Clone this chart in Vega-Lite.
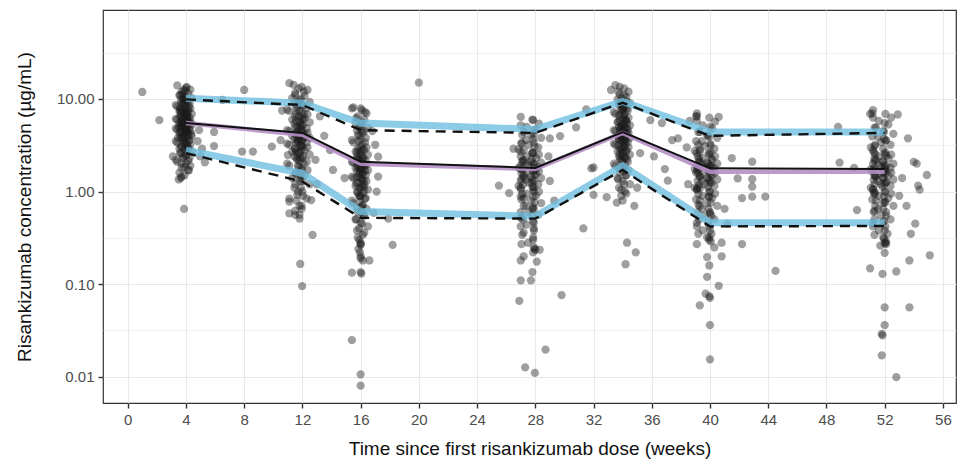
{
"$schema": "https://vega.github.io/schema/vega-lite/v6.json",
"width": 853, "height": 393,
"autosize": {"type": "none"},
"padding": {"left": 103, "top": 10, "right": 3, "bottom": 57},
"background": "white",
"config": {
 "font": "Liberation Sans",
 "view": {"stroke": "#333333", "strokeWidth": 1.2},
 "axis": {"domain": false, "tickColor": "#333333", "tickSize": 5, "tickWidth": 1.4, "labelColor": "#4d4d4d", "labelFontSize": 15, "labelFont": "Liberation Sans", "titleFont": "Liberation Sans", "titleFontSize": 19, "titleFontWeight": "normal", "titleColor": "#111111", "gridColor": "#e8e8e8"}
},
"datasets": {
"pts": [
{"t":3.4,"c":14.0},{"t":4.0,"c":13.2},{"t":4.3,"c":12.6},{"t":3.7,"c":12.0},{"t":4.15,"c":11.5},{"t":3.55,"c":11.0},{"t":3.9,"c":10.6},{"t":4.4,"c":10.2},{"t":3.65,"c":9.8},{"t":4.05,"c":9.5},{"t":3.8,"c":9.2},{"t":4.25,"c":8.9},{"t":3.3,"c":8.6},
{"t":3.4,"c":8.3},{"t":4.0,"c":8.1},{"t":4.3,"c":7.9},{"t":3.7,"c":7.7},{"t":4.15,"c":7.5},{"t":3.55,"c":7.3},{"t":3.9,"c":7.1},{"t":4.4,"c":6.9},{"t":3.65,"c":6.7},{"t":4.05,"c":6.6},{"t":3.8,"c":6.4},{"t":4.25,"c":6.3},{"t":3.3,"c":6.1},
{"t":3.4,"c":6.0},{"t":4.0,"c":5.9},{"t":4.3,"c":5.8},{"t":3.7,"c":5.7},{"t":4.15,"c":5.6},{"t":3.55,"c":5.5},{"t":3.9,"c":5.4},{"t":4.4,"c":5.3},{"t":3.65,"c":5.2},{"t":4.05,"c":5.1},{"t":3.8,"c":5.0},{"t":4.25,"c":4.9},{"t":3.3,"c":4.8},
{"t":3.4,"c":4.7},{"t":4.0,"c":4.6},{"t":4.3,"c":4.5},{"t":3.7,"c":4.4},{"t":4.15,"c":4.3},{"t":3.55,"c":4.2},{"t":3.9,"c":4.1},{"t":4.4,"c":4.0},{"t":3.65,"c":3.9},{"t":4.05,"c":3.8},{"t":3.8,"c":3.7},{"t":4.25,"c":3.6},{"t":3.3,"c":3.5},
{"t":3.4,"c":3.4},{"t":4.0,"c":3.3},{"t":4.3,"c":3.2},{"t":3.7,"c":3.1},{"t":4.15,"c":3.0},{"t":3.55,"c":2.9},{"t":3.9,"c":2.8},{"t":4.4,"c":2.7},{"t":3.65,"c":2.6},{"t":4.05,"c":2.5},{"t":3.8,"c":2.4},{"t":4.25,"c":2.3},{"t":3.3,"c":2.2},
{"t":3.4,"c":2.1},{"t":4.0,"c":2.0},{"t":4.3,"c":1.9},{"t":3.7,"c":1.8},{"t":4.15,"c":1.7},{"t":3.55,"c":1.6},{"t":3.9,"c":1.5},{"t":3.65,"c":1.4},
{"t":3.9,"c":9.0},{"t":3.6,"c":8.0},{"t":4.1,"c":7.0},{"t":3.75,"c":6.2},{"t":4.2,"c":5.6},{"t":3.5,"c":5.0},{"t":3.95,"c":4.6},{"t":4.35,"c":4.2},{"t":3.45,"c":3.8},{"t":3.85,"c":3.4},{"t":4.1,"c":3.0},{"t":3.6,"c":7.6},{"t":3.95,"c":6.8},{"t":3.75,"c":5.3},{"t":4.0,"c":4.4},{"t":3.85,"c":10.0},{"t":3.75,"c":11.2},{"t":3.95,"c":12.3},
{"t":3.6,"c":11.0},{"t":4.0,"c":10.4},{"t":3.8,"c":9.9},{"t":4.15,"c":9.4},{"t":3.7,"c":9.0},{"t":3.9,"c":8.6},{"t":4.2,"c":8.2},{"t":3.85,"c":7.8},{"t":4.05,"c":7.5},{"t":3.65,"c":7.2},{"t":3.95,"c":6.9},{"t":4.1,"c":6.6},
{"t":3.6,"c":6.4},{"t":4.0,"c":6.2},{"t":3.8,"c":6.0},{"t":4.15,"c":5.8},{"t":3.7,"c":5.6},{"t":3.9,"c":5.45},{"t":4.2,"c":5.3},{"t":3.85,"c":5.15},{"t":4.05,"c":5.0},{"t":3.65,"c":4.85},{"t":3.95,"c":4.7},{"t":4.1,"c":4.55},
{"t":3.6,"c":4.4},{"t":4.0,"c":4.25},{"t":3.8,"c":4.1},{"t":4.15,"c":3.95},{"t":3.7,"c":3.8},{"t":3.9,"c":3.65},{"t":4.2,"c":3.5},{"t":3.85,"c":3.35},{"t":4.05,"c":3.2},{"t":3.65,"c":3.05},{"t":3.95,"c":2.9},{"t":4.1,"c":2.75},
{"t":3.6,"c":2.6},{"t":4.0,"c":2.45},{"t":3.8,"c":2.3},{"t":4.15,"c":2.15},{"t":3.7,"c":2.0},{"t":3.9,"c":1.85},{"t":4.2,"c":1.7},{"t":3.85,"c":12.5},{"t":4.05,"c":13.5},
{"t":1.0,"c":11.9},{"t":2.17,"c":5.9},{"t":8.0,"c":12.5},{"t":5.93,"c":4.4},{"t":5.93,"c":3.1},{"t":7.85,"c":2.7},{"t":8.6,"c":2.7},{"t":9.9,"c":3.05},{"t":6.5,"c":9.8},{"t":3.1,"c":2.4},{"t":3.7,"c":1.45},{"t":3.87,"c":0.65},{"t":4.97,"c":2.4},{"t":5.3,"c":2.07},{"t":4.8,"c":3.5},{"t":4.9,"c":4.6},{"t":5.1,"c":2.9},{"t":3.5,"c":1.35},

{"t":11.1,"c":14.8},{"t":11.95,"c":13.5},{"t":12.35,"c":12.5},{"t":11.5,"c":11.6},{"t":12.15,"c":10.8},{"t":11.3,"c":10.2},{"t":11.8,"c":9.7},{"t":12.5,"c":9.3},{"t":11.45,"c":8.9},{"t":12.0,"c":8.6},{"t":11.65,"c":8.3},{"t":12.3,"c":8.0},{"t":10.95,"c":7.7},
{"t":11.1,"c":7.4},{"t":11.95,"c":7.1},{"t":12.35,"c":6.8},{"t":11.5,"c":6.5},{"t":12.15,"c":6.2},{"t":11.3,"c":6.0},{"t":11.8,"c":5.8},{"t":12.5,"c":5.6},{"t":11.45,"c":5.4},{"t":12.0,"c":5.2},{"t":11.65,"c":5.0},{"t":12.3,"c":4.8},{"t":10.95,"c":4.6},
{"t":11.1,"c":4.5},{"t":11.95,"c":4.4},{"t":12.35,"c":4.3},{"t":11.5,"c":4.2},{"t":12.15,"c":4.1},{"t":11.3,"c":4.0},{"t":11.8,"c":3.9},{"t":12.5,"c":3.8},{"t":11.45,"c":3.7},{"t":12.0,"c":3.6},{"t":11.65,"c":3.5},{"t":12.3,"c":3.4},{"t":10.95,"c":3.3},
{"t":11.1,"c":3.2},{"t":11.95,"c":3.1},{"t":12.35,"c":3.0},{"t":11.5,"c":2.9},{"t":12.15,"c":2.8},{"t":11.3,"c":2.7},{"t":11.8,"c":2.6},{"t":12.5,"c":2.5},{"t":11.45,"c":2.4},{"t":12.0,"c":2.3},{"t":11.65,"c":2.2},{"t":12.3,"c":2.1},{"t":10.95,"c":2.0},
{"t":11.1,"c":1.9},{"t":11.95,"c":1.8},{"t":12.35,"c":1.7},{"t":11.5,"c":1.6},{"t":12.15,"c":1.5},{"t":11.3,"c":1.4},{"t":11.8,"c":1.3},{"t":12.5,"c":1.2},{"t":11.45,"c":1.1},{"t":12.0,"c":1.0},{"t":11.65,"c":0.92},{"t":12.3,"c":0.84},{"t":11.1,"c":0.78},{"t":11.95,"c":0.7},{"t":11.5,"c":0.62},{"t":11.8,"c":0.56},
{"t":11.75,"c":8.8},{"t":11.55,"c":7.0},{"t":12.05,"c":6.0},{"t":11.85,"c":5.0},{"t":11.6,"c":4.4},{"t":12.1,"c":3.9},{"t":11.7,"c":3.5},{"t":11.9,"c":3.1},{"t":11.55,"c":2.7},{"t":11.85,"c":2.3},{"t":11.7,"c":1.9},{"t":11.9,"c":1.5},
{"t":11.5,"c":11.0},{"t":11.9,"c":10.0},{"t":11.7,"c":9.2},{"t":12.05,"c":8.5},{"t":11.6,"c":7.9},{"t":11.8,"c":7.4},{"t":12.1,"c":6.9},{"t":11.75,"c":6.5},{"t":11.95,"c":6.1},{"t":11.55,"c":5.8},{"t":11.85,"c":5.5},{"t":12.0,"c":5.2},
{"t":11.5,"c":4.95},{"t":11.9,"c":4.7},{"t":11.7,"c":4.5},{"t":12.05,"c":4.3},{"t":11.6,"c":4.1},{"t":11.8,"c":3.95},{"t":12.1,"c":3.8},{"t":11.75,"c":3.65},{"t":11.95,"c":3.5},{"t":11.55,"c":3.35},{"t":11.85,"c":3.2},{"t":12.0,"c":3.05},
{"t":11.5,"c":2.9},{"t":11.9,"c":2.75},{"t":11.7,"c":2.6},{"t":12.05,"c":2.45},{"t":11.6,"c":2.3},{"t":11.8,"c":2.15},{"t":12.1,"c":2.0},{"t":11.75,"c":1.85},{"t":11.95,"c":1.7},{"t":11.55,"c":1.55},{"t":11.85,"c":1.4},{"t":12.0,"c":1.3},
{"t":11.5,"c":1.2},{"t":11.9,"c":1.1},{"t":11.7,"c":1.0},{"t":12.05,"c":0.9},{"t":11.6,"c":0.8},{"t":11.8,"c":0.7},{"t":12.1,"c":12.0},{"t":11.75,"c":13.0},{"t":11.95,"c":0.65},
{"t":11.85,"c":0.165},{"t":11.98,"c":0.095},{"t":12.7,"c":0.34},{"t":11.0,"c":2.48},{"t":14.1,"c":1.71},{"t":13.9,"c":2.8},{"t":12.6,"c":0.81},{"t":11.1,"c":0.58},{"t":11.5,"c":0.56},{"t":11.8,"c":0.51},{"t":11.1,"c":0.84},{"t":13.2,"c":6.5},{"t":13.5,"c":4.0},{"t":10.5,"c":3.6},{"t":13.0,"c":1.2},{"t":12.9,"c":2.2},{"t":10.6,"c":7.5},{"t":11.4,"c":14.2},

{"t":15.5,"c":8.1},{"t":16.1,"c":7.6},{"t":16.4,"c":7.0},{"t":15.8,"c":6.5},{"t":16.25,"c":6.0},{"t":15.65,"c":5.6},{"t":16.0,"c":5.2},{"t":16.5,"c":4.9},{"t":15.75,"c":4.6},{"t":16.15,"c":4.3},{"t":15.9,"c":4.0},{"t":16.35,"c":3.8},{"t":15.4,"c":3.6},
{"t":15.5,"c":3.4},{"t":16.1,"c":3.2},{"t":16.4,"c":3.0},{"t":15.8,"c":2.9},{"t":16.25,"c":2.8},{"t":15.65,"c":2.7},{"t":16.0,"c":2.6},{"t":16.5,"c":2.5},{"t":15.75,"c":2.4},{"t":16.15,"c":2.3},{"t":15.9,"c":2.2},{"t":16.35,"c":2.15},{"t":15.4,"c":2.1},
{"t":15.5,"c":2.05},{"t":16.1,"c":2.0},{"t":16.4,"c":1.95},{"t":15.8,"c":1.9},{"t":16.25,"c":1.85},{"t":15.65,"c":1.8},{"t":16.0,"c":1.75},{"t":16.5,"c":1.7},{"t":15.75,"c":1.65},{"t":16.15,"c":1.6},{"t":15.9,"c":1.55},{"t":16.35,"c":1.5},{"t":15.4,"c":1.45},
{"t":15.5,"c":1.4},{"t":16.1,"c":1.35},{"t":16.4,"c":1.3},{"t":15.8,"c":1.25},{"t":16.25,"c":1.2},{"t":15.65,"c":1.15},{"t":16.0,"c":1.1},{"t":16.5,"c":1.05},{"t":15.75,"c":1.0},{"t":16.15,"c":0.95},{"t":15.9,"c":0.9},{"t":16.35,"c":0.85},{"t":15.4,"c":0.8},
{"t":15.5,"c":0.75},{"t":16.1,"c":0.7},{"t":16.4,"c":0.65},{"t":15.8,"c":0.6},{"t":16.25,"c":0.55},{"t":15.65,"c":0.5},{"t":16.0,"c":0.46},{"t":16.5,"c":0.42},{"t":15.75,"c":0.38},{"t":16.15,"c":0.34},{"t":15.9,"c":0.3},{"t":16.0,"c":0.27},{"t":15.85,"c":0.24},
{"t":16.05,"c":4.5},{"t":15.85,"c":3.5},{"t":16.0,"c":2.75},{"t":15.8,"c":2.25},{"t":16.05,"c":1.78},{"t":15.95,"c":1.42},{"t":16.2,"c":1.12},{"t":15.95,"c":0.88},{"t":16.05,"c":0.68},
{"t":15.7,"c":6.2},{"t":16.1,"c":5.6},{"t":15.9,"c":5.0},{"t":16.25,"c":4.5},{"t":15.8,"c":4.1},{"t":16.0,"c":3.7},{"t":16.3,"c":3.4},{"t":15.95,"c":3.1},{"t":16.15,"c":2.85},{"t":15.75,"c":2.65},{"t":16.05,"c":2.45},{"t":16.2,"c":2.3},
{"t":15.7,"c":2.2},{"t":16.1,"c":2.1},{"t":15.9,"c":2.0},{"t":16.25,"c":1.92},{"t":15.8,"c":1.84},{"t":16.0,"c":1.76},{"t":16.3,"c":1.68},{"t":15.95,"c":1.6},{"t":16.15,"c":1.52},{"t":15.75,"c":1.44},{"t":16.05,"c":1.37},{"t":16.2,"c":1.3},
{"t":15.7,"c":1.23},{"t":16.1,"c":1.16},{"t":15.9,"c":1.09},{"t":16.25,"c":1.02},{"t":15.8,"c":0.96},{"t":16.0,"c":0.9},{"t":16.3,"c":0.84},{"t":15.95,"c":0.78},{"t":16.15,"c":0.72},{"t":15.75,"c":0.66},{"t":16.05,"c":0.6},{"t":16.2,"c":0.55},
{"t":15.7,"c":0.5},{"t":16.1,"c":0.45},{"t":15.9,"c":0.4},{"t":16.25,"c":0.36},{"t":15.8,"c":0.32},{"t":16.0,"c":0.28},{"t":16.3,"c":7.2},{"t":15.95,"c":0.22},{"t":16.15,"c":0.18},
{"t":16.0,"c":0.2},{"t":16.6,"c":0.18},{"t":16.0,"c":0.19},{"t":15.4,"c":0.133},{"t":16.0,"c":0.135},{"t":16.05,"c":0.13},{"t":18.2,"c":0.265},{"t":16.0,"c":0.265},{"t":15.4,"c":0.0248},{"t":16.0,"c":0.0106},{"t":16.0,"c":0.008},{"t":15.4,"c":7.9},{"t":16.0,"c":7.9},{"t":17.2,"c":2.38},{"t":17.2,"c":1.45},{"t":17.9,"c":0.51},{"t":16.9,"c":0.59},{"t":17.0,"c":3.2},{"t":16.8,"c":4.5},{"t":17.1,"c":1.0},{"t":14.9,"c":1.4},{"t":20.0,"c":15.0},

{"t":27.0,"c":6.4},{"t":27.85,"c":5.9},{"t":28.25,"c":5.4},{"t":27.4,"c":5.0},{"t":28.05,"c":4.7},{"t":27.2,"c":4.4},{"t":27.7,"c":4.1},{"t":28.4,"c":3.8},{"t":27.35,"c":3.6},{"t":27.9,"c":3.4},{"t":27.55,"c":3.2},{"t":28.2,"c":3.0},{"t":26.85,"c":2.85},
{"t":27.0,"c":2.7},{"t":27.85,"c":2.6},{"t":28.25,"c":2.5},{"t":27.4,"c":2.4},{"t":28.05,"c":2.3},{"t":27.2,"c":2.2},{"t":27.7,"c":2.1},{"t":28.4,"c":2.05},{"t":27.35,"c":2.0},{"t":27.9,"c":1.95},{"t":27.55,"c":1.9},{"t":28.2,"c":1.85},{"t":26.85,"c":1.8},
{"t":27.0,"c":1.75},{"t":27.85,"c":1.7},{"t":28.25,"c":1.65},{"t":27.4,"c":1.6},{"t":28.05,"c":1.55},{"t":27.2,"c":1.5},{"t":27.7,"c":1.45},{"t":28.4,"c":1.4},{"t":27.35,"c":1.35},{"t":27.9,"c":1.3},{"t":27.55,"c":1.25},{"t":28.2,"c":1.2},{"t":26.85,"c":1.15},
{"t":27.0,"c":1.1},{"t":27.85,"c":1.05},{"t":28.25,"c":1.0},{"t":27.4,"c":0.95},{"t":28.05,"c":0.9},{"t":27.2,"c":0.85},{"t":27.7,"c":0.8},{"t":28.4,"c":0.75},{"t":27.35,"c":0.7},{"t":27.9,"c":0.65},{"t":27.55,"c":0.6},{"t":28.2,"c":0.56},{"t":27.0,"c":0.52},
{"t":27.85,"c":0.48},{"t":27.4,"c":0.44},{"t":27.9,"c":0.4},{"t":27.2,"c":0.36},{"t":27.85,"c":0.32},{"t":27.5,"c":0.28},{"t":27.9,"c":0.25},{"t":27.85,"c":0.22},
{"t":27.9,"c":4.2},{"t":27.05,"c":3.3},{"t":27.8,"c":2.65},{"t":27.1,"c":2.15},{"t":27.95,"c":1.72},{"t":27.05,"c":1.38},{"t":27.8,"c":1.12},{"t":27.0,"c":0.88},{"t":27.85,"c":0.68},{"t":27.1,"c":0.54},
{"t":27.0,"c":5.2},{"t":27.9,"c":4.6},{"t":27.1,"c":4.1},{"t":27.85,"c":3.7},{"t":27.05,"c":3.35},{"t":27.95,"c":3.05},{"t":27.2,"c":2.8},{"t":27.8,"c":2.6},{"t":27.0,"c":2.4},{"t":27.75,"c":2.25},{"t":27.15,"c":2.1},{"t":27.9,"c":2.0},
{"t":27.0,"c":1.9},{"t":27.9,"c":1.82},{"t":27.1,"c":1.74},{"t":27.85,"c":1.66},{"t":27.05,"c":1.58},{"t":27.95,"c":1.5},{"t":27.2,"c":1.43},{"t":27.8,"c":1.36},{"t":27.0,"c":1.3},{"t":27.75,"c":1.24},{"t":27.15,"c":1.18},{"t":27.9,"c":1.12},
{"t":27.0,"c":1.06},{"t":27.9,"c":1.0},{"t":27.1,"c":0.94},{"t":27.85,"c":0.88},{"t":27.05,"c":0.82},{"t":27.95,"c":0.76},{"t":27.2,"c":0.7},{"t":27.8,"c":0.65},{"t":27.0,"c":0.6},{"t":27.75,"c":0.55},{"t":27.15,"c":0.5},{"t":27.9,"c":0.46},
{"t":27.0,"c":0.42},{"t":27.9,"c":0.38},{"t":27.1,"c":0.34},{"t":27.85,"c":0.3},{"t":27.05,"c":0.27},{"t":27.95,"c":0.24},{"t":27.2,"c":0.2},{"t":27.8,"c":6.0},{"t":27.0,"c":0.18},
{"t":27.0,"c":0.11},{"t":26.9,"c":0.066},{"t":27.7,"c":0.11},{"t":27.8,"c":0.135},{"t":28.1,"c":0.175},{"t":29.8,"c":0.076},{"t":28.7,"c":0.0196},{"t":27.3,"c":0.0126},{"t":27.97,"c":0.011},{"t":28.0,"c":0.235},{"t":28.3,"c":0.235},{"t":25.5,"c":1.16},{"t":26.2,"c":0.96},{"t":29.7,"c":3.97},{"t":29.0,"c":3.75},{"t":30.8,"c":4.94},{"t":31.5,"c":7.7},{"t":29.0,"c":1.3},{"t":28.9,"c":2.4},{"t":29.3,"c":0.8},{"t":26.5,"c":2.9},

{"t":33.5,"c":14.1},{"t":34.1,"c":13.0},{"t":34.4,"c":12.0},{"t":33.8,"c":11.2},{"t":34.25,"c":10.5},{"t":33.65,"c":9.9},{"t":34.0,"c":9.4},{"t":34.5,"c":9.0},{"t":33.75,"c":8.6},{"t":34.15,"c":8.2},{"t":33.9,"c":7.8},{"t":34.35,"c":7.5},{"t":33.4,"c":7.2},
{"t":33.5,"c":6.9},{"t":34.1,"c":6.6},{"t":34.4,"c":6.3},{"t":33.8,"c":6.0},{"t":34.25,"c":5.8},{"t":33.65,"c":5.6},{"t":34.0,"c":5.4},{"t":34.5,"c":5.2},{"t":33.75,"c":5.0},{"t":34.15,"c":4.9},{"t":33.9,"c":4.8},{"t":34.35,"c":4.7},{"t":33.4,"c":4.6},
{"t":33.5,"c":4.5},{"t":34.1,"c":4.4},{"t":34.4,"c":4.3},{"t":33.8,"c":4.2},{"t":34.25,"c":4.1},{"t":33.65,"c":4.0},{"t":34.0,"c":3.9},{"t":34.5,"c":3.8},{"t":33.75,"c":3.7},{"t":34.15,"c":3.6},{"t":33.9,"c":3.5},{"t":34.35,"c":3.4},{"t":33.4,"c":3.3},
{"t":33.5,"c":3.2},{"t":34.1,"c":3.1},{"t":34.4,"c":3.0},{"t":33.8,"c":2.9},{"t":34.25,"c":2.8},{"t":33.65,"c":2.7},{"t":34.0,"c":2.6},{"t":34.5,"c":2.5},{"t":33.75,"c":2.4},{"t":34.15,"c":2.3},{"t":33.9,"c":2.2},{"t":34.35,"c":2.1},{"t":33.4,"c":2.0},
{"t":33.5,"c":1.9},{"t":34.1,"c":1.8},{"t":34.4,"c":1.7},{"t":33.8,"c":1.6},{"t":34.25,"c":1.5},{"t":33.65,"c":1.4},{"t":34.0,"c":1.3},{"t":34.5,"c":1.2},{"t":33.75,"c":1.1},{"t":34.15,"c":1.0},{"t":33.9,"c":0.9},{"t":34.0,"c":0.8},
{"t":34.05,"c":8.0},{"t":33.85,"c":6.8},{"t":34.2,"c":5.9},{"t":33.95,"c":5.1},{"t":34.05,"c":4.55},{"t":33.85,"c":4.05},{"t":34.2,"c":3.55},{"t":33.95,"c":3.05},{"t":34.05,"c":2.65},{"t":33.8,"c":2.25},{"t":34.0,"c":1.85},
{"t":33.7,"c":12.0},{"t":34.1,"c":11.0},{"t":33.9,"c":10.2},{"t":34.25,"c":9.5},{"t":33.8,"c":8.9},{"t":34.0,"c":8.4},{"t":34.3,"c":7.9},{"t":33.95,"c":7.4},{"t":34.15,"c":7.0},{"t":33.75,"c":6.6},{"t":34.05,"c":6.25},{"t":34.2,"c":5.95},
{"t":33.7,"c":5.65},{"t":34.1,"c":5.35},{"t":33.9,"c":5.1},{"t":34.25,"c":4.85},{"t":33.8,"c":4.65},{"t":34.0,"c":4.45},{"t":34.3,"c":4.25},{"t":33.95,"c":4.05},{"t":34.15,"c":3.85},{"t":33.75,"c":3.65},{"t":34.05,"c":3.45},{"t":34.2,"c":3.3},
{"t":33.7,"c":3.15},{"t":34.1,"c":3.0},{"t":33.9,"c":2.85},{"t":34.25,"c":2.7},{"t":33.8,"c":2.55},{"t":34.0,"c":2.4},{"t":34.3,"c":2.25},{"t":33.95,"c":2.1},{"t":34.15,"c":1.95},{"t":33.75,"c":1.8},{"t":34.05,"c":1.65},{"t":34.2,"c":1.5},
{"t":33.7,"c":1.35},{"t":34.1,"c":1.2},{"t":33.9,"c":1.05},{"t":34.25,"c":0.95},{"t":33.8,"c":13.5},{"t":34.0,"c":7.7},{"t":34.3,"c":5.5},{"t":33.95,"c":3.6},{"t":34.15,"c":2.35},
{"t":34.3,"c":0.28},{"t":34.9,"c":0.22},{"t":34.2,"c":0.164},{"t":34.8,"c":0.7},{"t":32.9,"c":0.87},{"t":32.0,"c":0.92},{"t":31.85,"c":1.78},{"t":31.3,"c":0.4},{"t":33.6,"c":0.76},{"t":36.7,"c":5.5},{"t":37.4,"c":3.6},{"t":37.8,"c":3.75},{"t":36.15,"c":2.4},{"t":36.9,"c":1.75},{"t":37.1,"c":1.31},{"t":35.9,"c":5.9},{"t":39.1,"c":6.5},{"t":32.0,"c":1.82},{"t":33.2,"c":12.5},{"t":35.0,"c":1.1},{"t":35.2,"c":2.6},

{"t":39.1,"c":7.0},{"t":39.95,"c":6.3},{"t":40.35,"c":5.7},{"t":39.5,"c":5.2},{"t":40.15,"c":4.8},{"t":39.3,"c":4.4},{"t":39.8,"c":4.1},{"t":40.5,"c":3.8},{"t":39.45,"c":3.5},{"t":40.0,"c":3.3},{"t":39.65,"c":3.1},{"t":40.3,"c":2.9},{"t":38.95,"c":2.75},
{"t":39.1,"c":2.6},{"t":39.95,"c":2.5},{"t":40.35,"c":2.4},{"t":39.5,"c":2.3},{"t":40.15,"c":2.2},{"t":39.3,"c":2.1},{"t":39.8,"c":2.05},{"t":40.5,"c":2.0},{"t":39.45,"c":1.95},{"t":40.0,"c":1.9},{"t":39.65,"c":1.85},{"t":40.3,"c":1.8},{"t":38.95,"c":1.75},
{"t":39.1,"c":1.7},{"t":39.95,"c":1.65},{"t":40.35,"c":1.6},{"t":39.5,"c":1.55},{"t":40.15,"c":1.5},{"t":39.3,"c":1.45},{"t":39.8,"c":1.4},{"t":40.5,"c":1.35},{"t":39.45,"c":1.3},{"t":40.0,"c":1.25},{"t":39.65,"c":1.2},{"t":40.3,"c":1.15},{"t":38.95,"c":1.1},
{"t":39.1,"c":1.05},{"t":39.95,"c":1.0},{"t":40.35,"c":0.95},{"t":39.5,"c":0.9},{"t":40.15,"c":0.85},{"t":39.3,"c":0.8},{"t":39.8,"c":0.75},{"t":40.5,"c":0.7},{"t":39.45,"c":0.65},{"t":40.0,"c":0.6},{"t":39.65,"c":0.55},{"t":40.3,"c":0.5},{"t":39.1,"c":0.46},
{"t":39.95,"c":0.42},{"t":39.5,"c":0.38},{"t":40.1,"c":0.35},{"t":39.8,"c":0.32},{"t":39.95,"c":0.3},
{"t":39.85,"c":4.0},{"t":39.2,"c":3.2},{"t":40.05,"c":2.65},{"t":39.25,"c":2.25},{"t":40.1,"c":1.88},{"t":39.2,"c":1.58},{"t":40.0,"c":1.32},{"t":39.3,"c":1.08},{"t":39.9,"c":0.88},{"t":39.2,"c":0.72},{"t":40.0,"c":0.58},
{"t":39.1,"c":5.8},{"t":40.0,"c":5.0},{"t":39.2,"c":4.4},{"t":39.95,"c":3.9},{"t":39.05,"c":3.5},{"t":40.05,"c":3.15},{"t":39.3,"c":2.85},{"t":39.9,"c":2.6},{"t":39.15,"c":2.4},{"t":40.1,"c":2.25},{"t":39.25,"c":2.1},{"t":39.85,"c":2.0},
{"t":39.1,"c":1.92},{"t":40.0,"c":1.84},{"t":39.2,"c":1.76},{"t":39.95,"c":1.68},{"t":39.05,"c":1.6},{"t":40.05,"c":1.52},{"t":39.3,"c":1.45},{"t":39.9,"c":1.38},{"t":39.15,"c":1.31},{"t":40.1,"c":1.24},{"t":39.25,"c":1.18},{"t":39.85,"c":1.12},
{"t":39.1,"c":1.06},{"t":40.0,"c":1.0},{"t":39.2,"c":0.94},{"t":39.95,"c":0.88},{"t":39.05,"c":0.82},{"t":40.05,"c":0.76},{"t":39.3,"c":0.7},{"t":39.9,"c":0.65},{"t":39.15,"c":0.6},{"t":40.1,"c":0.55},{"t":39.25,"c":0.5},{"t":39.85,"c":0.46},
{"t":39.1,"c":0.42},{"t":40.0,"c":0.38},{"t":39.2,"c":0.35},{"t":39.95,"c":0.32},{"t":39.05,"c":6.5},{"t":40.05,"c":0.29},{"t":39.3,"c":2.7},{"t":39.9,"c":1.7},{"t":39.15,"c":1.1},
{"t":39.1,"c":0.27},{"t":39.8,"c":0.196},{"t":39.95,"c":0.159},{"t":39.8,"c":0.12},{"t":40.6,"c":0.096},{"t":39.7,"c":0.079},{"t":39.95,"c":0.074},{"t":40.0,"c":0.071},{"t":39.3,"c":0.059},{"t":40.0,"c":0.036},{"t":40.0,"c":0.0154},{"t":40.8,"c":0.2},{"t":40.3,"c":0.25},{"t":40.8,"c":0.28},{"t":42.2,"c":0.27},{"t":44.5,"c":0.139},{"t":41.5,"c":2.3},{"t":42.9,"c":2.1},{"t":41.9,"c":1.39},{"t":42.9,"c":1.36},{"t":42.9,"c":1.13},{"t":42.9,"c":0.88},{"t":43.8,"c":0.88},{"t":42.2,"c":0.85},{"t":38.6,"c":5.8},{"t":41.0,"c":0.65},{"t":41.2,"c":0.45},{"t":38.4,"c":3.0},{"t":38.5,"c":1.2},{"t":40.6,"c":6.4},

{"t":51.2,"c":7.6},{"t":52.05,"c":6.9},{"t":52.45,"c":6.3},{"t":51.6,"c":5.8},{"t":52.25,"c":5.3},{"t":51.4,"c":4.9},{"t":51.9,"c":4.5},{"t":52.6,"c":4.2},{"t":51.55,"c":3.9},{"t":52.1,"c":3.6},{"t":51.75,"c":3.4},{"t":52.4,"c":3.2},{"t":51.05,"c":3.0},
{"t":51.2,"c":2.8},{"t":52.05,"c":2.65},{"t":52.45,"c":2.5},{"t":51.6,"c":2.4},{"t":52.25,"c":2.3},{"t":51.4,"c":2.2},{"t":51.9,"c":2.1},{"t":52.6,"c":2.0},{"t":51.55,"c":1.95},{"t":52.1,"c":1.9},{"t":51.75,"c":1.85},{"t":52.4,"c":1.8},{"t":51.05,"c":1.75},
{"t":51.2,"c":1.7},{"t":52.05,"c":1.65},{"t":52.45,"c":1.6},{"t":51.6,"c":1.55},{"t":52.25,"c":1.5},{"t":51.4,"c":1.45},{"t":51.9,"c":1.4},{"t":52.6,"c":1.35},{"t":51.55,"c":1.3},{"t":52.1,"c":1.25},{"t":51.75,"c":1.2},{"t":52.4,"c":1.15},{"t":51.05,"c":1.1},
{"t":51.2,"c":1.05},{"t":52.05,"c":1.0},{"t":52.45,"c":0.95},{"t":51.6,"c":0.9},{"t":52.25,"c":0.85},{"t":51.4,"c":0.8},{"t":51.9,"c":0.75},{"t":52.6,"c":0.7},{"t":51.55,"c":0.65},{"t":52.1,"c":0.6},{"t":51.75,"c":0.55},{"t":52.4,"c":0.5},{"t":51.2,"c":0.46},
{"t":52.05,"c":0.42},{"t":51.6,"c":0.38},{"t":52.2,"c":0.35},{"t":51.9,"c":0.32},{"t":52.1,"c":0.29},{"t":51.7,"c":0.26},
{"t":51.95,"c":3.7},{"t":51.3,"c":3.1},{"t":52.0,"c":2.55},{"t":51.3,"c":2.15},{"t":52.05,"c":1.78},{"t":51.3,"c":1.48},{"t":52.0,"c":1.22},{"t":51.35,"c":0.98},{"t":52.0,"c":0.78},{"t":51.3,"c":0.62},{"t":51.95,"c":0.48},
{"t":51.2,"c":6.3},{"t":52.0,"c":5.5},{"t":51.3,"c":4.9},{"t":51.95,"c":4.4},{"t":51.15,"c":3.95},{"t":52.05,"c":3.55},{"t":51.35,"c":3.2},{"t":51.9,"c":2.9},{"t":51.25,"c":2.65},{"t":52.1,"c":2.45},{"t":51.3,"c":2.28},{"t":51.85,"c":2.12},
{"t":51.2,"c":2.0},{"t":52.0,"c":1.9},{"t":51.3,"c":1.8},{"t":51.95,"c":1.72},{"t":51.15,"c":1.64},{"t":52.05,"c":1.56},{"t":51.35,"c":1.48},{"t":51.9,"c":1.41},{"t":51.25,"c":1.34},{"t":52.1,"c":1.27},{"t":51.3,"c":1.2},{"t":51.85,"c":1.13},
{"t":51.2,"c":1.06},{"t":52.0,"c":1.0},{"t":51.3,"c":0.94},{"t":51.95,"c":0.88},{"t":51.15,"c":0.82},{"t":52.05,"c":0.76},{"t":51.35,"c":0.7},{"t":51.9,"c":0.65},{"t":51.25,"c":0.6},{"t":52.1,"c":0.55},{"t":51.3,"c":0.5},{"t":51.85,"c":0.46},
{"t":51.2,"c":0.42},{"t":52.0,"c":0.38},{"t":51.3,"c":0.34},{"t":51.95,"c":0.31},{"t":51.15,"c":7.0},{"t":52.05,"c":0.28},{"t":51.35,"c":2.55},{"t":51.9,"c":1.6},{"t":51.25,"c":0.97},
{"t":52.0,"c":0.275},{"t":52.1,"c":0.27},{"t":52.0,"c":0.218},{"t":51.0,"c":0.148},{"t":51.85,"c":0.129},{"t":52.8,"c":0.137},{"t":53.7,"c":0.18},{"t":55.1,"c":0.205},{"t":52.0,"c":0.056},{"t":53.7,"c":0.056},{"t":52.0,"c":0.036},{"t":51.8,"c":0.029},{"t":51.85,"c":0.028},{"t":51.8,"c":0.017},{"t":52.8,"c":0.0099},{"t":53.6,"c":3.76},{"t":54.0,"c":2.09},{"t":54.2,"c":2.0},{"t":54.9,"c":1.51},{"t":54.3,"c":1.16},{"t":54.4,"c":1.05},{"t":54.1,"c":0.45},{"t":48.8,"c":5.0},{"t":48.9,"c":2.05},{"t":49.9,"c":1.8},{"t":50.1,"c":0.63},{"t":53.2,"c":1.4},{"t":53.0,"c":0.9},{"t":53.5,"c":0.7},{"t":53.8,"c":0.35},{"t":52.9,"c":6.8},{"t":51.0,"c":6.9}
],
"lines": [
{"s":"p95","t":4,"c":10.2},{"s":"p95","t":12,"c":9.0},{"s":"p95","t":16,"c":5.5},{"s":"p95","t":28,"c":4.7},{"s":"p95","t":34,"c":9.4},{"s":"p95","t":40,"c":4.4},{"s":"p95","t":52,"c":4.4},
{"s":"p05","t":4,"c":2.8},{"s":"p05","t":12,"c":1.57},{"s":"p05","t":16,"c":0.61},{"s":"p05","t":28,"c":0.54},{"s":"p05","t":34,"c":1.89},{"s":"p05","t":40,"c":0.46},{"s":"p05","t":52,"c":0.46},
{"s":"p50","t":4,"c":5.5},{"s":"p50","t":12,"c":4.1},{"s":"p50","t":16,"c":2.0},{"s":"p50","t":28,"c":1.75},{"s":"p50","t":34,"c":4.3},{"s":"p50","t":40,"c":1.64},{"s":"p50","t":52,"c":1.64},
{"s":"o95","t":4,"c":9.9},{"s":"o95","t":12,"c":8.6},{"s":"o95","t":16,"c":4.6},{"s":"o95","t":28,"c":4.3},{"s":"o95","t":34,"c":9.1},{"s":"o95","t":40,"c":4.0},{"s":"o95","t":52,"c":4.3},
{"s":"o05","t":4,"c":2.6},{"s":"o05","t":12,"c":1.28},{"s":"o05","t":16,"c":0.52},{"s":"o05","t":28,"c":0.51},{"s":"o05","t":34,"c":1.71},{"s":"o05","t":40,"c":0.42},{"s":"o05","t":52,"c":0.425},
{"s":"o50","t":4,"c":5.5},{"s":"o50","t":12,"c":4.3},{"s":"o50","t":16,"c":2.1},{"s":"o50","t":28,"c":1.8},{"s":"o50","t":34,"c":4.4},{"s":"o50","t":40,"c":1.78},{"s":"o50","t":52,"c":1.75}
]
},
"layer": [
 {"data": {"name": "pts"},
  "mark": {"type": "circle", "size": 68, "color": "#1a1a1a", "opacity": 0.42},
  "encoding": {
   "x": {"field": "t", "type": "quantitative", "scale": {"domain": [-1.7, 56.9], "nice": false, "zero": false},
     "axis": {"title": "Time since first risankizumab dose (weeks)", "values": [0,2,4,6,8,10,12,14,16,18,20,22,24,26,28,30,32,34,36,38,40,42,44,46,48,50,52,54,56],
       "labelExpr": "datum.value % 4 == 0 ? datum.label : ''", "labelPadding": 4, "titlePadding": 12,
       "tickOpacity": {"condition": {"test": "datum.value % 4 != 0", "value": 0}, "value": 1},
       "gridWidth": {"condition": {"test": "datum.value % 4 != 0", "value": 0.6}, "value": 1.1}}},
   "y": {"field": "c", "type": "quantitative", "scale": {"type": "log", "domain": [0.0052, 91.4], "nice": false},
     "axis": {"title": "Risankizumab concentration (µg/mL)", "values": [0.01,0.0316,0.1,0.316,1,3.16,10,31.6],
       "labelExpr": "(datum.value==0.01||datum.value==0.1||datum.value==1||datum.value==10) ? format(datum.value,'.2f') : ''", "labelPadding": 4, "titlePadding": 22,
       "tickOpacity": {"condition": {"test": "datum.value==0.0316||datum.value==0.316||datum.value==3.16||datum.value==31.6", "value": 0}, "value": 1},
       "gridWidth": {"condition": {"test": "datum.value==0.0316||datum.value==0.316||datum.value==3.16||datum.value==31.6", "value": 0.6}, "value": 1.1}}}
  }},
 {"data": {"name": "lines"}, "transform": [{"filter": "datum.s=='p95'||datum.s=='p05'"}],
  "mark": {"type": "line", "color": "#6fbfe0", "strokeWidth": 7, "opacity": 0.8},
  "encoding": {"x": {"field": "t", "type": "quantitative"}, "y": {"field": "c", "type": "quantitative"}, "detail": {"field": "s"}}},
 {"data": {"name": "lines"}, "transform": [{"filter": "datum.s=='p50'"}],
  "mark": {"type": "line", "color": "#b58fc6", "strokeWidth": 4.5, "opacity": 0.9},
  "encoding": {"x": {"field": "t", "type": "quantitative"}, "y": {"field": "c", "type": "quantitative"}}},
 {"data": {"name": "lines"}, "transform": [{"filter": "datum.s=='o95'||datum.s=='o05'"}],
  "mark": {"type": "line", "color": "#111111", "strokeWidth": 2.4, "strokeDash": [10, 7]},
  "encoding": {"x": {"field": "t", "type": "quantitative"}, "y": {"field": "c", "type": "quantitative"}, "detail": {"field": "s"}}},
 {"data": {"name": "lines"}, "transform": [{"filter": "datum.s=='o50'"}],
  "mark": {"type": "line", "color": "#111111", "strokeWidth": 2},
  "encoding": {"x": {"field": "t", "type": "quantitative"}, "y": {"field": "c", "type": "quantitative"}}}
]
}
